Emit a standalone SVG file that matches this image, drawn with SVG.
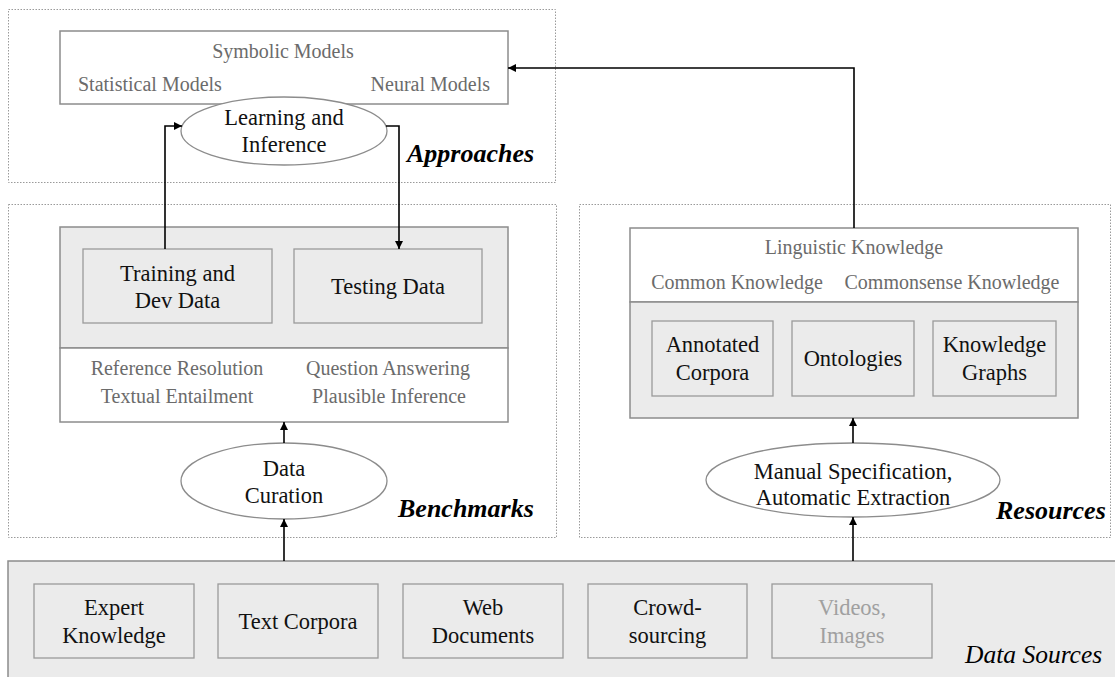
<svg xmlns="http://www.w3.org/2000/svg" width="1115" height="677" viewBox="0 0 1115 677">
<style>
text{font-family:"Liberation Serif","Times New Roman",serif}
.area{fill:none;stroke:#9a9a9a;stroke-width:1;stroke-dasharray:1.5,1.5}
.wbox{fill:#fff;stroke:#8c8c8c;stroke-width:1.5}
.gbox{fill:#ebebeb;stroke:#8c8c8c;stroke-width:1.5}
.ibox{fill:#ebebeb;stroke:#9a9a9a;stroke-width:1.3}
.ell{fill:#fff;stroke:#8c8c8c;stroke-width:1.3}
.lbl{font-size:22.5px;fill:#111;text-anchor:middle}
.cat{font-size:20px;fill:#6b6b6b}
.mid{text-anchor:middle}
.sec{font-size:26px;font-weight:bold;font-style:italic;fill:#000}
.ds{font-size:25.5px;font-style:italic;fill:#000}
.faint{fill:#a0a0a0}
.conn{fill:none;stroke:#000;stroke-width:1.6}
</style>
<defs>
<marker id="arr" viewBox="0 0 10 10" refX="10" refY="5" markerWidth="8" markerHeight="8" markerUnits="userSpaceOnUse" orient="auto">
<path d="M0,0 L10,5 L0,10 z" fill="#000"/>
</marker>
</defs>

<g id="approaches">
<rect class="area" x="8.5" y="9.5" width="547" height="173"/>
<rect id="models" class="wbox" x="60" y="31" width="448" height="73"/>
<text class="cat mid" x="283" y="58">Symbolic Models</text>
<text class="cat" x="78" y="91">Statistical Models</text>
<text class="cat" x="490" y="91" text-anchor="end">Neural Models</text>
<text class="sec" x="407" y="162">Approaches</text>
</g>
<g id="learning">
<ellipse class="ell" cx="284" cy="131" rx="103" ry="34"/>
<text class="lbl" x="284" y="125">Learning and</text>
<text class="lbl" x="284" y="152">Inference</text>
</g>

<g id="benchmarks">
<rect class="area" x="8.5" y="204.5" width="548" height="333"/>
<rect class="gbox" x="60" y="227" width="448" height="121"/>
<rect class="wbox" x="60" y="348" width="448" height="74"/>
<text class="cat mid" x="177" y="375">Reference Resolution</text>
<text class="cat mid" x="177" y="403">Textual Entailment</text>
<text class="cat mid" x="388" y="375">Question Answering</text>
<text class="cat mid" x="389" y="403">Plausible Inference</text>
<text class="sec" x="398" y="517">Benchmarks</text>
</g>
<g id="training">
<rect class="ibox" x="83" y="249" width="189" height="74"/>
<text class="lbl" x="177.5" y="281">Training and</text>
<text class="lbl" x="177.5" y="308">Dev Data</text>
</g>
<g id="testing">
<rect class="ibox" x="294" y="249" width="188" height="74"/>
<text class="lbl" x="388" y="294">Testing Data</text>
</g>
<g id="curation">
<ellipse class="ell" cx="284" cy="481" rx="103" ry="38"/>
<text class="lbl" x="284" y="476">Data</text>
<text class="lbl" x="284" y="503">Curation</text>
</g>

<g id="resources">
<rect class="area" x="579.5" y="204.5" width="531" height="333"/>
<rect class="wbox" x="630" y="228" width="448" height="74"/>
<rect class="gbox" x="630" y="302" width="448" height="116"/>
<text class="cat mid" x="854" y="254">Linguistic Knowledge</text>
<text class="cat mid" x="737" y="289">Common Knowledge</text>
<text class="cat mid" x="952" y="289">Commonsense Knowledge</text>
<text class="sec" x="996" y="519">Resources</text>
</g>
<g id="annotated">
<rect class="ibox" x="652" y="321" width="121" height="75"/>
<text class="lbl" x="712.5" y="352">Annotated</text>
<text class="lbl" x="712.5" y="380">Corpora</text>
</g>
<g id="ontologies">
<rect class="ibox" x="792" y="321" width="122" height="75"/>
<text class="lbl" x="853" y="366">Ontologies</text>
</g>
<g id="kgraphs">
<rect class="ibox" x="933" y="321" width="123" height="75"/>
<text class="lbl" x="994.5" y="352">Knowledge</text>
<text class="lbl" x="994.5" y="380">Graphs</text>
</g>
<g id="extraction">
<ellipse class="ell" cx="853" cy="480" rx="147" ry="37"/>
<text class="lbl" x="853" y="479">Manual Specification,</text>
<text class="lbl" x="853" y="505">Automatic Extraction</text>
</g>

<g id="datasources">
<rect class="gbox" x="8" y="561" width="1120" height="130"/>
<text class="ds" x="965" y="663">Data Sources</text>
</g>
<g id="expert">
<rect class="ibox" x="34" y="584" width="160" height="74"/>
<text class="lbl" x="114" y="615">Expert</text>
<text class="lbl" x="114" y="643">Knowledge</text>
</g>
<g id="textcorpora">
<rect class="ibox" x="218" y="584" width="160" height="74"/>
<text class="lbl" x="298" y="629">Text Corpora</text>
</g>
<g id="webdocs">
<rect class="ibox" x="403" y="584" width="160" height="74"/>
<text class="lbl" x="483" y="615">Web</text>
<text class="lbl" x="483" y="643">Documents</text>
</g>
<g id="crowd">
<rect class="ibox" x="588" y="584" width="159" height="74"/>
<text class="lbl" x="667.5" y="615">Crowd-</text>
<text class="lbl" x="667.5" y="643">sourcing</text>
</g>
<g id="videos">
<rect class="ibox" x="772" y="584" width="160" height="74"/>
<text class="lbl faint" x="852" y="615">Videos,</text>
<text class="lbl faint" x="852" y="643">Images</text>
</g>

<g id="connectors">
<path class="conn" d="M165,249 V126 H182" marker-end="url(#arr)"/>
<path class="conn" d="M386,126 H399 V249" marker-end="url(#arr)"/>
<path class="conn" d="M854,228 V68 H508" marker-end="url(#arr)"/>
<path class="conn" d="M284,443 V422" marker-end="url(#arr)"/>
<path class="conn" d="M284,561 V519" marker-end="url(#arr)"/>
<path class="conn" d="M853,443 V418" marker-end="url(#arr)"/>
<path class="conn" d="M853,561 V517" marker-end="url(#arr)"/>
</g>
</svg>
